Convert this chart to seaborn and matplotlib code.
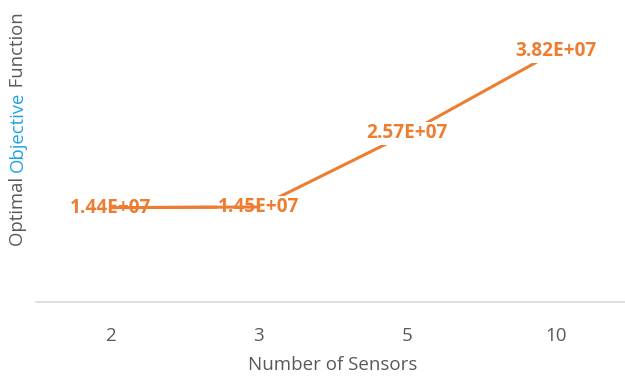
import matplotlib
matplotlib.use("Agg")
import matplotlib.pyplot as plt
import numpy as np
import pandas as pd
import seaborn as sns

sensors = ["2", "3", "5", "10"]
objective = [1.44e7, 1.45e7, 2.57e7, 3.82e7]
point_labels = ["1.44E+07", "1.45E+07", "2.57E+07", "3.82E+07"]

sns.set_theme(style="white")
plt.rcParams["font.family"] = ["Open Sans", "DejaVu Sans"]

orange = "#ED7D31"
gray = "#595959"
blue = "#1FA3E6"

df = pd.DataFrame({"sensors": sensors, "objective": objective})

fig = plt.figure(figsize=(6.25, 3.81), dpi=100)
ax = fig.add_axes([0.058, 0.207, 0.95, 0.775])

sns.lineplot(data=df, x="sensors", y="objective", ax=ax, color=orange,
             linewidth=2.2, sort=False, zorder=2)
# first flat segment runs over its labels in the original
ax.plot(df["sensors"][:2], df["objective"][:2], color=orange, linewidth=2.2, zorder=4)

for i, (v, lab) in enumerate(zip(objective, point_labels)):
    ax.text(i, v, lab, ha="center", va="center", color=orange, fontsize=13.7,
            fontweight="bold", zorder=3,
            bbox=dict(facecolor="white", edgecolor="none", pad=1))

ax.set_xlim(-0.5, 3.5)
ax.set_ylim(0, 4.5e7)
ax.set_yticks([])
for s in ["top", "right", "left"]:
    ax.spines[s].set_visible(False)
ax.spines["bottom"].set_color("#D9D9D9")
ax.spines["bottom"].set_linewidth(1.2)
ax.tick_params(axis="x", length=0, labelsize=13.5, labelcolor=gray, pad=18)
ax.set_xlabel("Number of Sensors", fontsize=13.5, color=gray, labelpad=8)
ax.set_ylabel("")

# multi-coloured y label
fig.canvas.draw()
renderer = fig.canvas.get_renderer()
y_px = 381 - 246
for part, col in [("Optimal ", gray), ("Objective", blue), (" Function", gray)]:
    t = fig.text(18 / 625, y_px / 381, part, rotation=90, color=col, fontsize=13.3,
                 ha="center", va="bottom")
    bb = t.get_window_extent(renderer=renderer)
    y_px += bb.height

fig.savefig("out.png", dpi=100)
